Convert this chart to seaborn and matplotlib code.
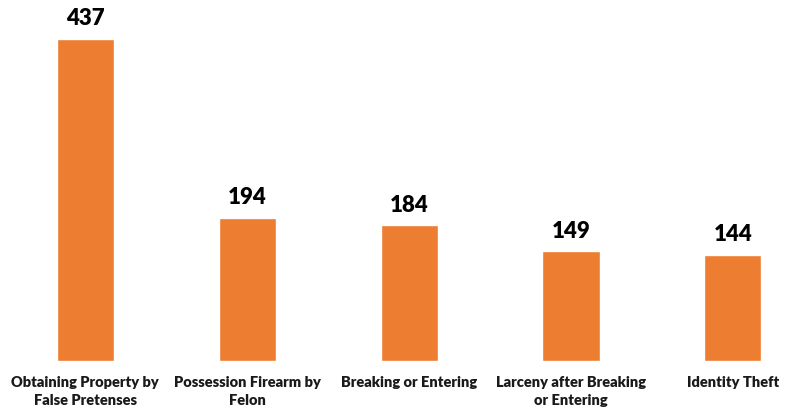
import pandas as pd
import seaborn as sns
import matplotlib.pyplot as plt

# Chart data
categories = ['Obtaining Property by\nFalse Pretenses', 'Possession Firearm by\nFelon',
              'Breaking or Entering', 'Larceny after Breaking\nor Entering', 'Identity Theft']
counts = [437, 194, 184, 149, 144]

df = pd.DataFrame({'charge': categories, 'count': counts})

sns.set_style('white')
plt.rcParams['font.family'] = ['Lato', 'DejaVu Sans']

fig = plt.figure(figsize=(7.96, 4.09), dpi=100)
ax = fig.add_axes([0, 48 / 409, 1, 361 / 409])

sns.barplot(data=df, x='charge', y='count', color='#ED7D31', width=0.352,
            saturation=1, ax=ax)

# Value labels above each bar
for i, v in enumerate(counts):
    ax.annotate(str(v), (i, v), xytext=(0, 7), textcoords='offset points',
                ha='center', va='bottom', fontsize=16, fontweight='heavy', color='black')

ax.set_xlim(-0.525, 4.389)
ax.set_ylim(0, 490)
ax.set_xlabel('')
ax.set_ylabel('')
ax.set_yticks([])
ax.tick_params(axis='x', length=0, pad=11)
for lbl in ax.get_xticklabels():
    lbl.set_fontsize(10.5)
    lbl.set_fontweight('heavy')
    lbl.set_linespacing(1.45)
    lbl.set_color('#1a1a1a')

for s in ax.spines.values():
    s.set_visible(False)

fig.savefig('out.png', dpi=100)
